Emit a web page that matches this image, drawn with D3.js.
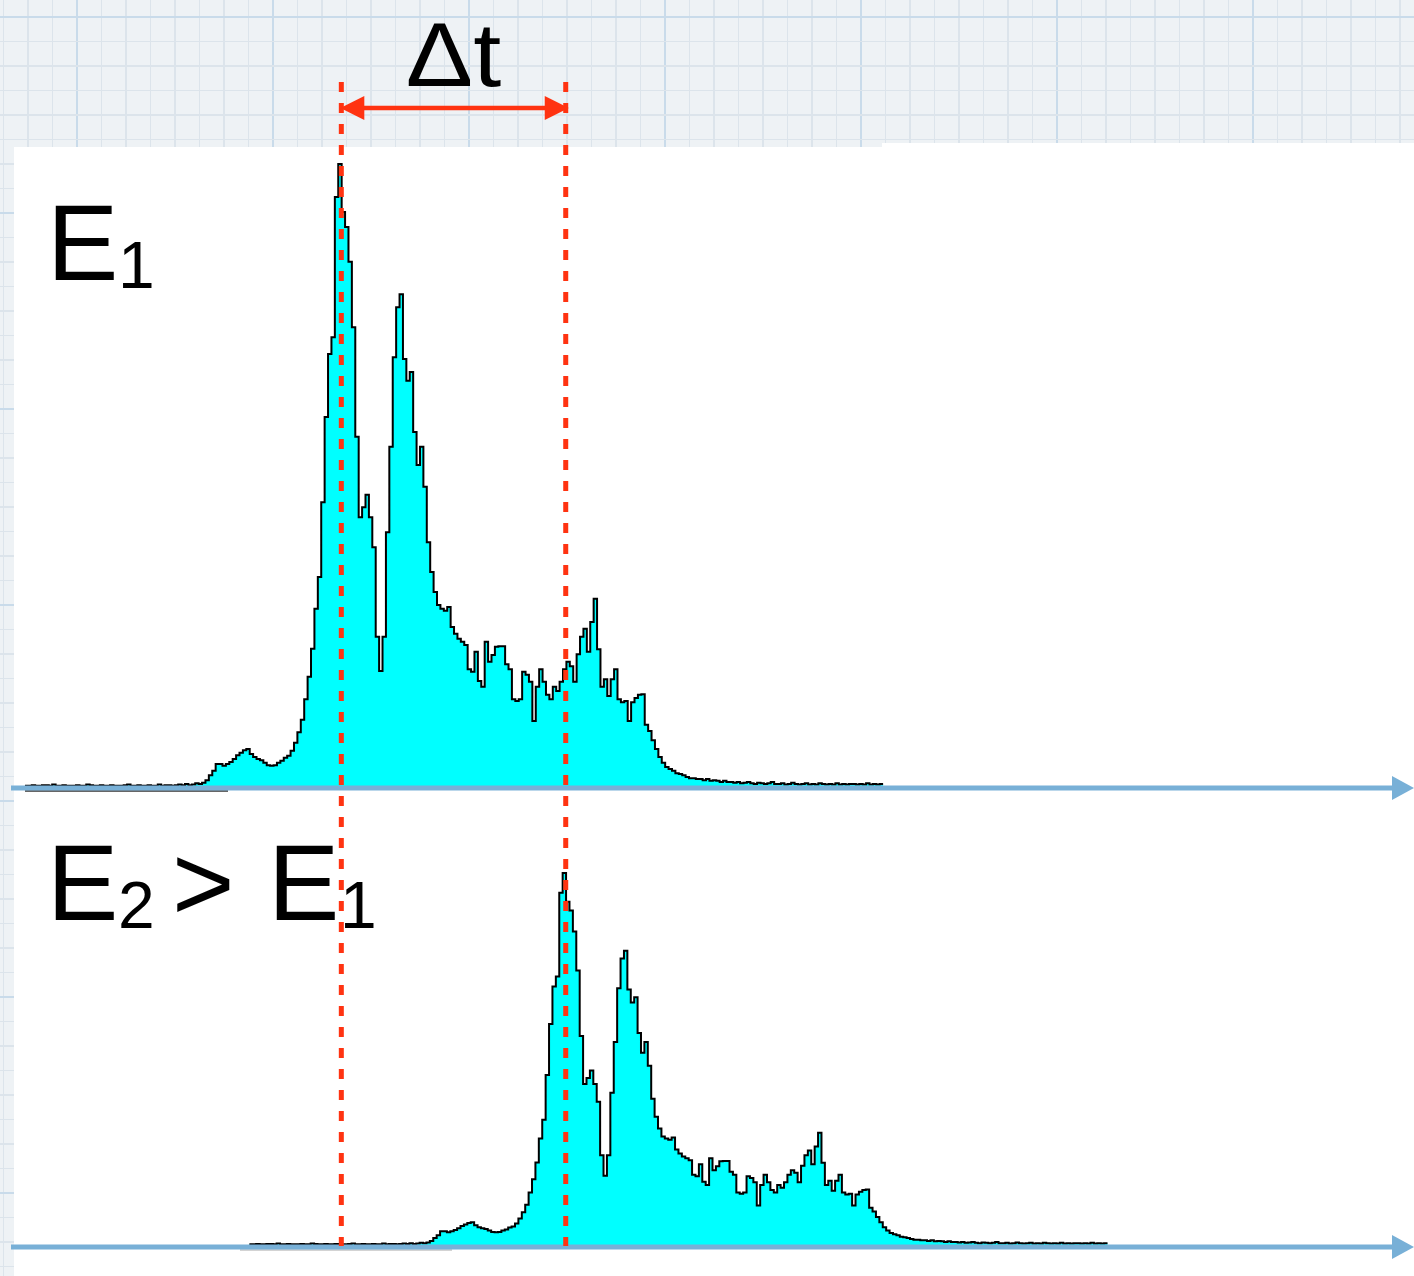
<!DOCTYPE html>
<html>
<head>
<meta charset="utf-8">
<script src="https://cdn.jsdelivr.net/npm/d3@7"></script>
<style>
  html, body { margin: 0; padding: 0; background: #fff; }
  svg { display: block; }
</style>
</head>
<body>
<svg id="chart" width="1414" height="1276"></svg>
<script>
// Arrival-time histogram of one pulse (counts per 1 ns bin), bins 0..251.
const pulseCounts = [
  2,2,3,2,2,3,3,2,4,2, 2,3,2,2,2,3,2,2,4,3, 2,2,3,2,2,3,2,2,2,3,
  4,2,2,3,2,2,3,2,2,4, 2,3,3,2,3,4,3,5,3,4, 6,5,7,
  11,19,26,37,37,34,37,40,45,51,
  55,59,61,53,48,45,43,39,35,34,
  35,39,42,47,50,58,71,88,108,141,
  177,222,286,337,457,594,695,722,947,1000,
  923,899,843,738,562,433,
  449,469,433,385,241,186,241,409,546,690,
  770,791,687,652,666,570,517,546,482,393,
  345,313,292,286,283,289,257,246,238,233,
  228,189,185,217,170,161,233,201,212,225,
  226,226,197,189,141,138,141,185,180,169,
  106,161,
  189,169,148,141,161,154,169,189,201,194,
  169,213,241,254,217,265,302,221,161,173,
  146,173,189,141,136,138,106,136,143,148,
  149,100,90,75,61,48,39,32,29,26,
  22,21,19,16,14,14,13,13,
  11,13,10,11,10,8,10,8,8,7, 8,6,7,8,6,5,7,6,5,6,
  8,5,5,6,4,5,7,5,4,5, 6,4,5,4,6,5,4,5,4,6,
  4,5,4,5,5,4,5,4,6,4, 5,4,5
];

// Start time (ns) of the first bin for the lower-energy and higher-energy pulses.
const arrivalTimes = [4.1, 70.0];
// Time (ns) of the main peak of each pulse, marked by the dashed lines.
const peakTimes = [97.0, 162.9];
// Panel labels: [text, isSubscript] pieces.
const labelE1 = [["E", 0], ["1", 1]];
const labelE2 = [["E", 0], ["2", 1], [">", 0], ["E", 0], ["1", 1]];
const deltaLabel = "Δt";

const svg = d3.select("#chart");
const W = 1414, H = 1276;
const FONT = "'Liberation Sans', Arial, Helvetica, sans-serif";

// ---- graph-paper backdrop ----
svg.append("rect").attr("width", W).attr("height", H).attr("fill", "#eef2f5");
const step = 24.5;
const grid = svg.append("g").attr("shape-rendering", "crispEdges");
d3.range(-3, 56).forEach(k => {
  const major = ((k % 8) + 8) % 8 === 0;
  grid.append("line")
    .attr("x1", 77 + k * step).attr("x2", 77 + k * step)
    .attr("y1", 0).attr("y2", H)
    .attr("stroke", major ? "#c9dbea" : "#dce4eb")
    .attr("stroke-width", major ? 2 : 1.3);
});
d3.range(0, 53).forEach(k => {
  const major = k % 8 === 0;
  grid.append("line")
    .attr("x1", 0).attr("x2", W)
    .attr("y1", 17 + k * step).attr("y2", 17 + k * step)
    .attr("stroke", major ? "#c9dbea" : "#dce4eb")
    .attr("stroke-width", major ? 2 : 1.3);
});

// white plotting sheet
svg.append("rect").attr("x", 14).attr("y", 147).attr("width", W - 14).attr("height", H - 147).attr("fill", "#fff");
svg.append("rect").attr("x", 882).attr("y", 143).attr("width", W - 882).attr("height", 10).attr("fill", "#fff");

// ---- scales ----
const x = d3.scaleLinear().domain([0, 412]).range([11, 1414]);
const panels = [
  { y: d3.scaleLinear().domain([0, 1000]).range([787, 164]), t0: arrivalTimes[0], axisY: 788 },
  { y: d3.scaleLinear().domain([0, 1000]).range([1245, 873]), t0: arrivalTimes[1], axisY: 1247 }
];

// leftover frame baselines of the original histograms, just under the axes
svg.append("line").attr("x1", 25).attr("x2", 228).attr("y1", 791).attr("y2", 791)
  .attr("stroke", "#333").attr("stroke-width", 1.5);
svg.append("line").attr("x1", 240).attr("x2", 452).attr("y1", 1250).attr("y2", 1250)
  .attr("stroke", "#c4c4c4").attr("stroke-width", 1.5);

// ---- histograms ----
panels.forEach(p => {
  const pts = pulseCounts.map((c, i) => ({ t: p.t0 + i, c }));
  pts.push({ t: p.t0 + pulseCounts.length, c: pulseCounts[pulseCounts.length - 1] });
  const area = d3.area().curve(d3.curveStepAfter)
    .x(d => x(d.t)).y0(p.y(0)).y1(d => p.y(d.c));
  const line = d3.line().curve(d3.curveStepAfter)
    .x(d => x(d.t)).y(d => p.y(d.c));
  svg.append("path").datum(pts).attr("d", area).attr("fill", "#00ffff");
  svg.append("path").datum(pts).attr("d", line)
    .attr("fill", "none").attr("stroke", "#000").attr("stroke-width", 2)
    .attr("stroke-linejoin", "miter");
});

// ---- time axes (blue arrows) ----
const axisColor = "#78b0d7";
panels.forEach(p => {
  svg.append("line")
    .attr("x1", x(0)).attr("x2", x(412) - 20)
    .attr("y1", p.axisY).attr("y2", p.axisY)
    .attr("stroke", axisColor).attr("stroke-width", 5);
  const tip = x(412);
  svg.append("path")
    .attr("d", `M${tip - 22},${p.axisY - 12} L${tip},${p.axisY} L${tip - 22},${p.axisY + 12} Z`)
    .attr("fill", axisColor);
});

// ---- peak markers ----
const red = "#ff3311";
peakTimes.forEach(t => {
  svg.append("line")
    .attr("x1", x(t)).attr("x2", x(t))
    .attr("y1", 82).attr("y2", 1246)
    .attr("stroke", red).attr("stroke-width", 5)
    .attr("stroke-dasharray", "10,11");
});

// Δt double arrow
const xa = x(peakTimes[0]), xb = x(peakTimes[1]), ya = 108;
svg.append("line").attr("x1", xa + 10).attr("x2", xb - 10).attr("y1", ya).attr("y2", ya)
  .attr("stroke", red).attr("stroke-width", 4.5);
svg.append("path")
  .attr("d", `M${xa - 1},${ya} L${xa + 23},${ya - 12} L${xa + 23},${ya + 12} Z`)
  .attr("fill", red);
svg.append("path")
  .attr("d", `M${xb + 3},${ya} L${xb - 21},${ya - 12} L${xb - 21},${ya + 12} Z`)
  .attr("fill", red);

// Δt label, slightly widened glyphs
const mid = (xa + xb) / 2;
svg.append("text")
  .attr("transform", `translate(${mid},86) scale(1.12,1)`)
  .attr("x", 0).attr("y", 0)
  .attr("text-anchor", "middle")
  .attr("font-family", FONT).attr("font-size", 90)
  .attr("fill", "#000")
  .text(deltaLabel);

// ---- panel labels ----
function drawLabel(pieces, xs, baseline) {
  const t = svg.append("text").attr("font-family", FONT).attr("fill", "#000");
  pieces.forEach(([s, sub], i) => {
    t.append("tspan")
      .attr("x", xs[i])
      .attr("y", sub ? baseline + 8 : baseline)
      .attr("font-size", sub ? 66 : 107)
      .text(s);
  });
}
drawLabel(labelE1, [47, 118], 280);
drawLabel(labelE2, [47, 118, 172, 268, 340], 920);
</script>
</body>
</html>
